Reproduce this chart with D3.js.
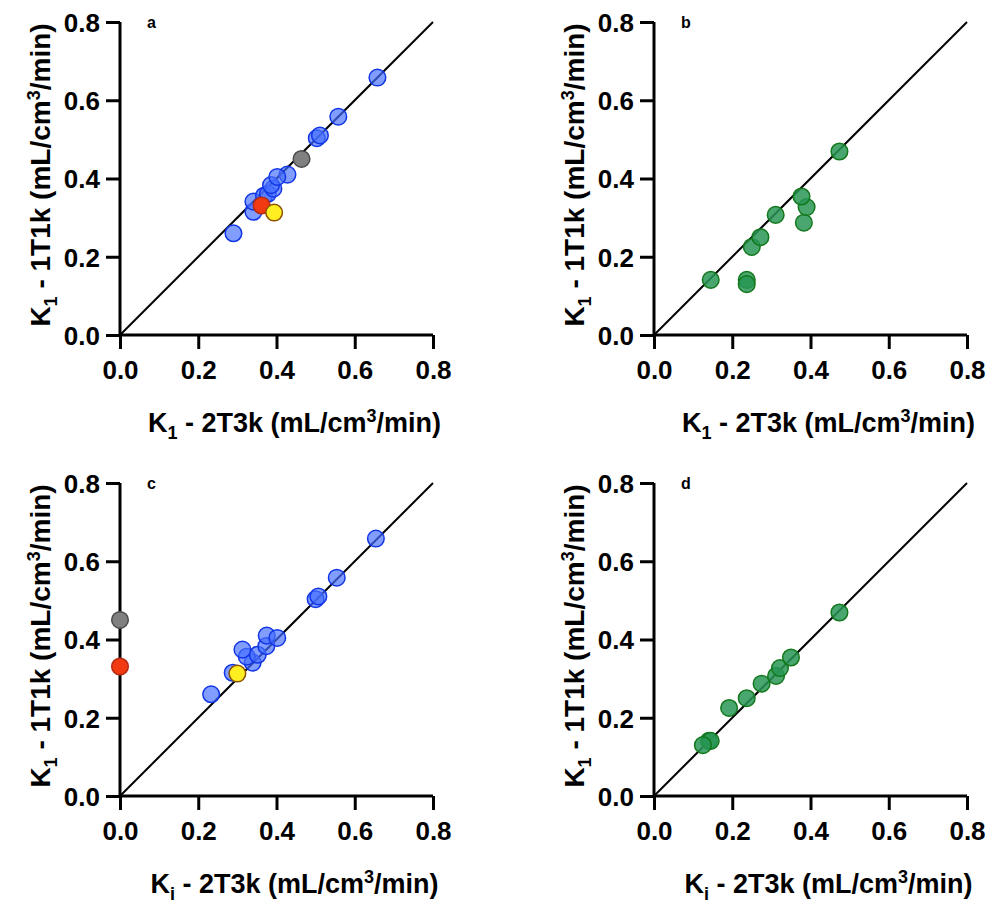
<!DOCTYPE html>
<html>
<head>
<meta charset="utf-8">
<script src="https://cdn.jsdelivr.net/npm/d3@7"></script>
<style>
  body { margin: 0; background: #fff; }
  svg { font-family: "Liberation Sans", Arial, sans-serif; font-weight: bold; }
</style>
</head>
<body>
<div id="chart"></div>
<script>
// tick labels shared by all panels
const ticks = [0, 0.2, 0.4, 0.6, 0.8];

// panel a: K1 2T3k vs K1 1T1k
const aBlueX = [0.290, 0.341, 0.341, 0.368, 0.378, 0.392, 0.386, 0.428, 0.402, 0.503, 0.511, 0.558, 0.658];
const aBlueY = [0.260, 0.315, 0.341, 0.356, 0.361, 0.374, 0.383, 0.410, 0.404, 0.503, 0.510, 0.558, 0.658];
const aYellow = [0.394, 0.313];
const aRed = [0.362, 0.331];
const aGray = [0.464, 0.450];

// panel c: Ki 2T3k vs K1 1T1k
const cBlueX = [0.233, 0.288, 0.339, 0.324, 0.352, 0.313, 0.374, 0.375, 0.402, 0.500, 0.507, 0.554, 0.654];
const cBlueY = [0.260, 0.315, 0.341, 0.356, 0.361, 0.374, 0.383, 0.410, 0.404, 0.503, 0.510, 0.558, 0.658];
const cYellow = [0.300, 0.313];
const cRed = [0.0, 0.331];
const cGray = [0.0, 0.450];

// panel b: green group
const bGreenX = [0.145, 0.237, 0.237, 0.250, 0.272, 0.311, 0.383, 0.390, 0.377, 0.474];
const bGreenY = [0.141, 0.141, 0.130, 0.225, 0.250, 0.307, 0.287, 0.327, 0.354, 0.469];

// panel d: green group, Ki
const dGreenX = [0.140, 0.145, 0.125, 0.192, 0.237, 0.275, 0.312, 0.322, 0.350, 0.474];
const dGreenY = [0.141, 0.141, 0.130, 0.225, 0.250, 0.287, 0.307, 0.327, 0.354, 0.469];

const width = 992, height = 904;
const svg = d3.select('#chart').append('svg')
  .attr('width', width).attr('height', height);

const styles = {
  blue: { fill: 'rgba(70,110,255,0.68)', stroke: '#1236e6' },
  green: { fill: 'rgba(40,150,85,0.85)', stroke: '#13781c' },
  red: { fill: '#f23a12', stroke: '#b52a10' },
  yellow: { fill: '#ffee22', stroke: '#8a5200' },
  gray: { fill: '#808080', stroke: '#4a4a4a' }
};

function zip(xs, ys) { return xs.map((x, i) => [x, ys[i]]); }

function panel(opts) {
  const x = d3.scaleLinear().domain([0, 0.8]).range([opts.left, opts.left + 313]);
  const y = d3.scaleLinear().domain([0, 0.8]).range([opts.bottom, opts.bottom - 313]);
  const g = svg.append('g');

  // identity line
  g.append('line')
    .attr('x1', x(0)).attr('y1', y(0)).attr('x2', x(0.8)).attr('y2', y(0.8))
    .attr('stroke', '#000').attr('stroke-width', 2);

  const xAxis = g.append('g')
    .attr('transform', 'translate(0,' + opts.bottom + ')')
    .call(d3.axisBottom(x).tickValues(ticks).tickFormat(d3.format('.1f')).tickSize(14).tickPadding(12));
  const yAxis = g.append('g')
    .attr('transform', 'translate(' + opts.left + ',0)')
    .call(d3.axisLeft(y).tickValues(ticks).tickFormat(d3.format('.1f')).tickSize(14).tickPadding(6));
  [xAxis, yAxis].forEach(ax => {
    ax.select('.domain').attr('stroke-width', 3).attr('stroke', '#000')
      .attr('d', ax === xAxis ? 'M' + x(0) + ',0H' + x(0.8) : 'M0,' + y(0) + 'V' + y(0.8));
    ax.selectAll('.tick line').attr('stroke-width', 3).attr('stroke', '#000');
    ax.selectAll('.tick text').attr('fill', '#000').style('font-size', '26px')
      .style('font-weight', 'bold').style('font-family', '"Liberation Sans", Arial, sans-serif');
  });
  yAxis.selectAll('.tick text').attr('dy', '0.36em');

  // x title
  const xt = g.append('text')
    .attr('x', (x(0) + x(0.8)) / 2 + 18).attr('y', opts.bottom + 97)
    .attr('text-anchor', 'middle').style('font-size', '27px');
  xt.append('tspan').text('K');
  xt.append('tspan').attr('dy', 7).style('font-size', '18px').text(opts.sub);
  xt.append('tspan').attr('dy', -7).text(' - 2T3k (mL/cm');
  xt.append('tspan').attr('dy', -10).style('font-size', '18px').text('3');
  xt.append('tspan').attr('dy', 10).text('/min)');

  // y title
  const yt = g.append('text')
    .attr('transform', 'translate(' + (opts.left - 70) + ',' + (opts.bottom - 160) + ') rotate(-90)')
    .attr('text-anchor', 'middle').style('font-size', '28px');
  yt.append('tspan').text('K');
  yt.append('tspan').attr('dy', 7).style('font-size', '18px').text('1');
  yt.append('tspan').attr('dy', -7).text(' - 1T1k (mL/cm');
  yt.append('tspan').attr('dy', -10).style('font-size', '18px').text('3');
  yt.append('tspan').attr('dy', 10).text('/min)');

  g.append('text').attr('x', opts.left + 27).attr('y', opts.bottom - 307)
    .style('font-size', '16px').text(opts.letter);

  opts.groups.forEach(gr => {
    g.append('g').selectAll('circle').data(gr.pts).join('circle')
      .attr('cx', d => x(d[0])).attr('cy', d => y(d[1])).attr('r', 8.3)
      .attr('fill', styles[gr.style].fill)
      .attr('stroke', styles[gr.style].stroke).attr('stroke-width', 1.5);
  });
}

panel({ left: 120, bottom: 335, letter: 'a', sub: '1', groups: [
  { style: 'blue', pts: zip(aBlueX, aBlueY) },
  { style: 'gray', pts: [aGray] },
  { style: 'red', pts: [aRed] },
  { style: 'yellow', pts: [aYellow] }
] });
panel({ left: 654, bottom: 335, letter: 'b', sub: '1', groups: [
  { style: 'green', pts: zip(bGreenX, bGreenY) }
] });
panel({ left: 120, bottom: 796, letter: 'c', sub: 'i', groups: [
  { style: 'blue', pts: zip(cBlueX, cBlueY) },
  { style: 'gray', pts: [cGray] },
  { style: 'red', pts: [cRed] },
  { style: 'yellow', pts: [cYellow] }
] });
panel({ left: 654, bottom: 796, letter: 'd', sub: 'i', groups: [
  { style: 'green', pts: zip(dGreenX, dGreenY) }
] });
</script>
</body>
</html>
